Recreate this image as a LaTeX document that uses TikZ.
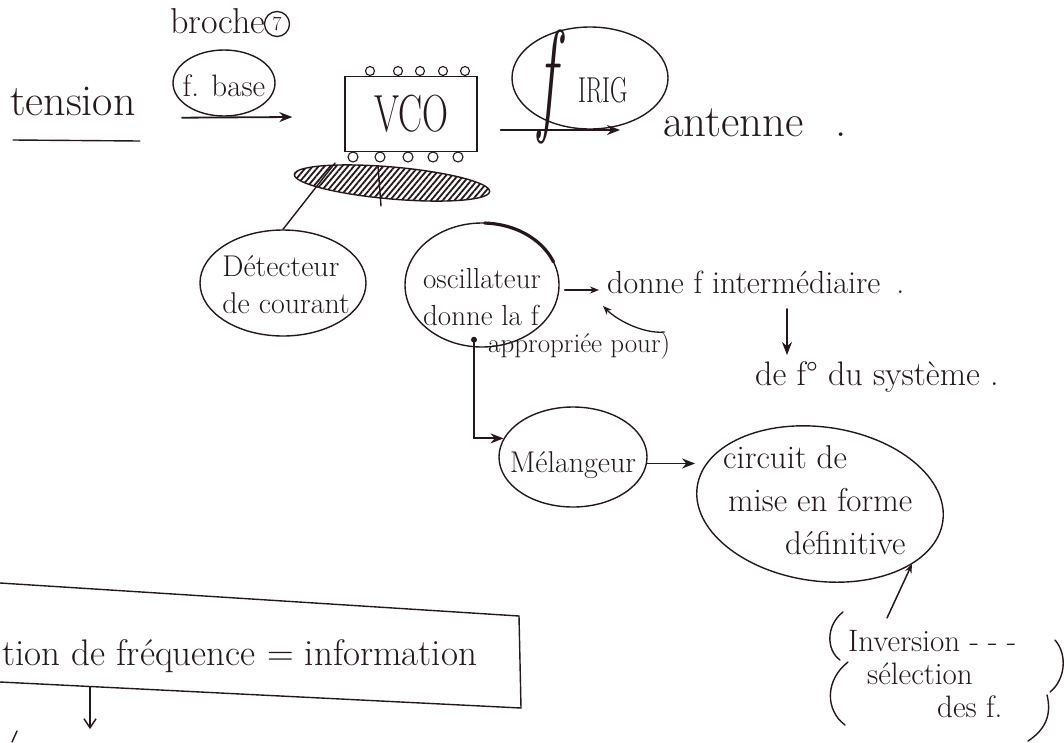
\documentclass[tikz,border=0pt]{standalone}
\usetikzlibrary{shapes.geometric,arrows.meta,patterns,patterns.meta,calc}
\definecolor{ink}{RGB}{38,24,26}
\newcommand{\myfs}[1]{\fontsize{#1}{#1}\selectfont}
\tikzset{
  inkline/.style={draw=ink, line width=1.4pt, line cap=round},
  bubble/.style={ellipse, draw=ink, line width=1.4pt, inner sep=0pt},
  arr/.style={inkline, line width=1.8pt, -{Stealth[length=13pt,width=10pt]}},
  arrs/.style={inkline, line width=1.3pt, -{Stealth[length=9pt,width=7pt]}},
  lbl/.style={text=ink, inner sep=0pt},
}
\begin{document}
\begin{tikzpicture}[x=1pt,y=-1pt]
\fill[white] (0,0) rectangle (1064,742);
\useasboundingbox (0,0) rectangle (1064,742);

% ---------- top row ----------
\node[lbl, font=\myfs{44}, anchor=base west] (tension) at (10,115) {tension};
\draw[inkline] ($(tension.base west)+(3,25)$) -- ($(tension.base east)+(4,26)$);

\node[lbl, font=\myfs{36}, anchor=base west] (broche) at (170,33) {broche};
\node[circle, draw=ink, line width=1.3pt, minimum size=25pt, inner sep=0pt, text=ink, font=\myfs{20}] (seven) at (277,24) {7};
\node[bubble, minimum width=102pt, minimum height=66pt,
  label={[lbl, font=\myfs{31}, yshift=-3pt]center:f. base}] (fbase) at (224,83) {};

\node[draw=ink, line width=1.4pt, minimum width=132pt, minimum height=75pt, inner sep=0pt, text=ink, font=\myfs{36}] (vco) at (411,114) {\scalebox{1}[1.45]{VCO}};
\foreach \x in {370,398,420,443,465} \draw[inkline, line width=1.1pt] (\x,71) circle (4.5pt);
\foreach \x in {353,380,408,433,458} \draw[inkline, line width=1.1pt] (\x,157) circle (5pt);

\node[bubble, minimum width=196pt, minimum height=32pt, rotate=-5, pattern={Lines[angle=50,distance=4.5pt,line width=1.8pt]}, pattern color=ink] (hatch) at (392,183) {};
\draw[inkline] (378,166) -- (381,206);

\node[bubble, minimum width=156pt, minimum height=102pt] (firig) at (590,78) {};
\node[lbl, anchor=base west] (firigtext) at (538,118) {{\myfs{60}\itshape\scalebox{1}[2.1]{f}}\hspace{22pt}{\myfs{24}\raisebox{16pt}{\scalebox{1}[1.5]{IRIG}}}};
\node[lbl, font=\myfs{45}, anchor=base west] (antenne) at (663,136) {antenne\hspace{0.7em}.};

\draw[arr] ($(fbase.south)+(-42,1)$) -- ($(vco.west)+(-52,3)$);
\draw[arr] ($(vco.east)+(23,16)$) -- ($(vco.east -| antenne.west)+(-43,16)$);

% ---------- middle ----------
\node[bubble, minimum width=166pt, minimum height=106pt,
  label={[lbl, font=\fontsize{30}{37}\selectfont, align=left, xshift=3pt, yshift=-2pt]center:{Détecteur\\de courant}}] (detect) at (283,283) {};
\draw[inkline] (detect.north) -- ($(hatch.center)+(-57,-20)$);

\node[bubble, minimum width=154pt, minimum height=124pt,
  label={[lbl, font=\fontsize{29}{37}\selectfont, align=left, yshift=-12pt]center:{oscillateur\\donne la f}}] (osc) at (482,285) {};
\draw[ink, line width=3.2pt, line cap=round] plot[domain=22:88, samples=25] ({482+77*cos(\x)}, {285-62*sin(\x)});
\node[lbl, font=\myfs{27}, anchor=base west] (appro) at (488,352) {appropriée pour)};

\node[lbl, font=\myfs{32}, anchor=base west] (donne) at (607,293) {donne f intermédiaire\hspace{0.5em}.};
\draw[arrs] ($(osc.east)+(5,5)$) -- ($(osc.east -| donne.west)+(-8,5)$);
\draw[arrs] ($(appro.base east)+(-6,-20)$) .. controls +(-20,2) and +(15,15) .. ($(donne.base west)+(-4,13)$);

\node[lbl, font=\myfs{34}, anchor=base west] (systeme) at (755,385) {de f° du système\hspace{0.3em}.};
\draw[arr] ($(donne.base west)+(180,16)$) -- ($(systeme.base west)+(32,-30)$);

% ---------- lower ----------
\node[bubble, minimum width=148pt, minimum height=100pt,
  label={[lbl, font=\myfs{30}, yshift=-8pt]center:Mélangeur}] (melange) at (573,457) {};
\fill[ink] ($(osc.south)+(-8,-8)$) circle (3pt);
\draw[arr] ($(osc.south)+(-8,-8)$) |- (melange.165);

\node[bubble, minimum width=248pt, minimum height=154pt, rotate=-8] (circuit) at (820,504) {};
\node[lbl, font=\fontsize{33}{43}\selectfont, align=left, anchor=north west] (circtext) at (723,445) {circuit de\\\hspace*{5pt}mise en forme\\\hspace*{62pt}définitive};
\draw[arr] (melange.-5) -- ($(melange.-5)+(48,0)$);

\node[lbl, font=\fontsize{31}{33}\selectfont, align=left, anchor=north west] (inv) at (848,630) {Inversion - - -\\\hspace*{19pt}sélection\\\hspace*{89pt}des f.};
\draw[arrs, line width=1.5pt] ($(inv.north west)+(39,-12)$) -- ($(circuit.center)+(92,60)$);
\draw[inkline] (843,612) .. controls (826,625) and (826,650) .. (840,660);
\draw[inkline] (848,662) .. controls (825,680) and (825,710) .. (845,725);
\draw[inkline] (1055,640) .. controls (1068,655) and (1065,680) .. (1050,692);
\draw[inkline] (1047,695) .. controls (1052,715) and (1045,730) .. (1028,741);

% ---------- bottom box ----------
\node[lbl, font=\myfs{37}, anchor=base west] (info) at (2,665) {tion de fréquence = information};
\draw[inkline] (0,583) -- (519,616) -- (521,708) -- (0,682);
\draw[inkline, -{Straight Barb[length=9pt,width=12pt]}] ($(info.base west)+(88,22)$) -- ++(0,42);
\draw[inkline] (17,731) -- (12,742);
\end{tikzpicture}
\end{document}
